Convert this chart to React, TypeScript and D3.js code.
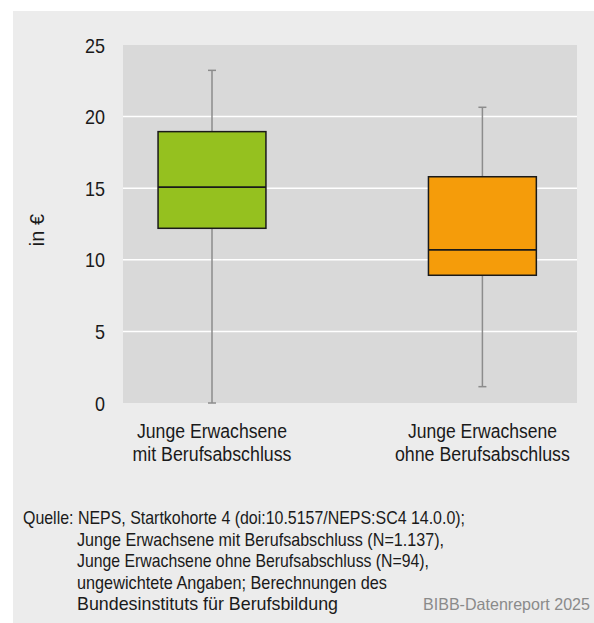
import React from "react";
import * as d3 from "d3";

const categories = ["Junge Erwachsene|mit Berufsabschluss", "Junge Erwachsene|ohne Berufsabschluss"];
const mins = [0, 1.14];
const q1s = [12.2, 8.92];
const medians = [15.08, 10.7];
const q3s = [18.95, 15.8];
const maxs = [23.23, 20.65];
const colors = ["#95c11f", "#f59c0a"];
const yTicks = [0, 5, 10, 15, 20, 25];
const footerLines = [
  "Quelle: NEPS, Startkohorte 4 (doi:10.5157/NEPS:SC4 14.0.0);",
  "Junge Erwachsene mit Berufsabschluss (N=1.137),",
  "Junge Erwachsene ohne Berufsabschluss (N=94),",
  "ungewichtete Angaben; Berechnungen des",
  "Bundesinstituts für Berufsbildung",
];
const brand = "BIBB-Datenreport 2025";

// text widths measured from reference (for condensed look)
const labelWidths = [[150, 159], [149, 175]];
const footerWidths = [442, 367, 352, 310, 261];

const FONT = "'Liberation Sans', Arial, sans-serif";

export default function App() {
  const W = 594, H = 623;
  const plot = { x0: 123, x1: 577, y0: 45, y1: 403 };
  const y = d3.scaleLinear().domain([0, 25]).range([plot.y1, plot.y0]);
  const x = d3.scaleBand().domain(categories).range([plot.x0, plot.x1]).paddingInner(0.601).paddingOuter(0.14).align(0.463);
  return (
    <svg width={W} height={H} style={{ position: "absolute", left: 0, top: 0 }} fontFamily={FONT}>
      <rect x={13} y={11} width={W - 13} height={H - 11} fill="#ececec" />
      <rect x={plot.x0} y={plot.y0} width={plot.x1 - plot.x0} height={plot.y1 - plot.y0} fill="#d9d9d9" />
      {yTicks.map((t) => (
        <g key={t}>
          {t > 0 && t < 25 && (
            <line x1={plot.x0} x2={plot.x1} y1={y(t)} y2={y(t)} stroke="#ffffff" strokeWidth={1.5} />
          )}
          <text x={105} y={y(t)} dy="0.36em" textAnchor="end" fontSize={21} fill="#1a1a1a"
            textLength={String(t).length * 10} lengthAdjust="spacingAndGlyphs">{t}</text>
        </g>
      ))}
      <text transform="translate(44,230) rotate(-90)" textAnchor="middle" fontSize={20} fill="#1a1a1a">in €</text>
      {categories.map((c, i) => {
        const bx = x(c)!;
        const bw = x.bandwidth();
        const cx = bx + bw / 2;
        return (
          <g key={c}>
            <line x1={cx} x2={cx} y1={y(maxs[i])} y2={y(q3s[i])} stroke="#8c8c8c" strokeWidth={1.5} />
            <line x1={cx} x2={cx} y1={y(q1s[i])} y2={y(mins[i])} stroke="#8c8c8c" strokeWidth={1.5} />
            <line x1={cx - 4} x2={cx + 4} y1={y(maxs[i])} y2={y(maxs[i])} stroke="#8c8c8c" strokeWidth={1.5} />
            <line x1={cx - 4} x2={cx + 4} y1={y(mins[i])} y2={y(mins[i])} stroke="#8c8c8c" strokeWidth={1.5} />
            <rect x={bx} y={y(q3s[i])} width={bw} height={y(q1s[i]) - y(q3s[i])} fill={colors[i]} stroke="#1a1a1a" strokeWidth={1.5} />
            <line x1={bx} x2={bx + bw} y1={y(medians[i])} y2={y(medians[i])} stroke="#1a1a1a" strokeWidth={1.8} />
            {c.split("|").map((l, k) => (
              <text key={k} x={cx} y={438 + k * 23} textAnchor="middle" fontSize={20} fill="#1a1a1a"
                textLength={labelWidths[i][k]} lengthAdjust="spacingAndGlyphs">{l}</text>
            ))}
          </g>
        );
      })}
      {footerLines.map((l, k) => (
        <text key={k} x={k === 0 ? 23 : 77} y={524 + k * 21.5} fontSize={19} fill="#1a1a1a"
          textLength={footerWidths[k]} lengthAdjust="spacingAndGlyphs">{l}</text>
      ))}
      <text x={423} y={524 + 4 * 21.5} fontSize={16.5} fill="#8a8a8a"
        textLength={167} lengthAdjust="spacingAndGlyphs">{brand}</text>
    </svg>
  );
}
